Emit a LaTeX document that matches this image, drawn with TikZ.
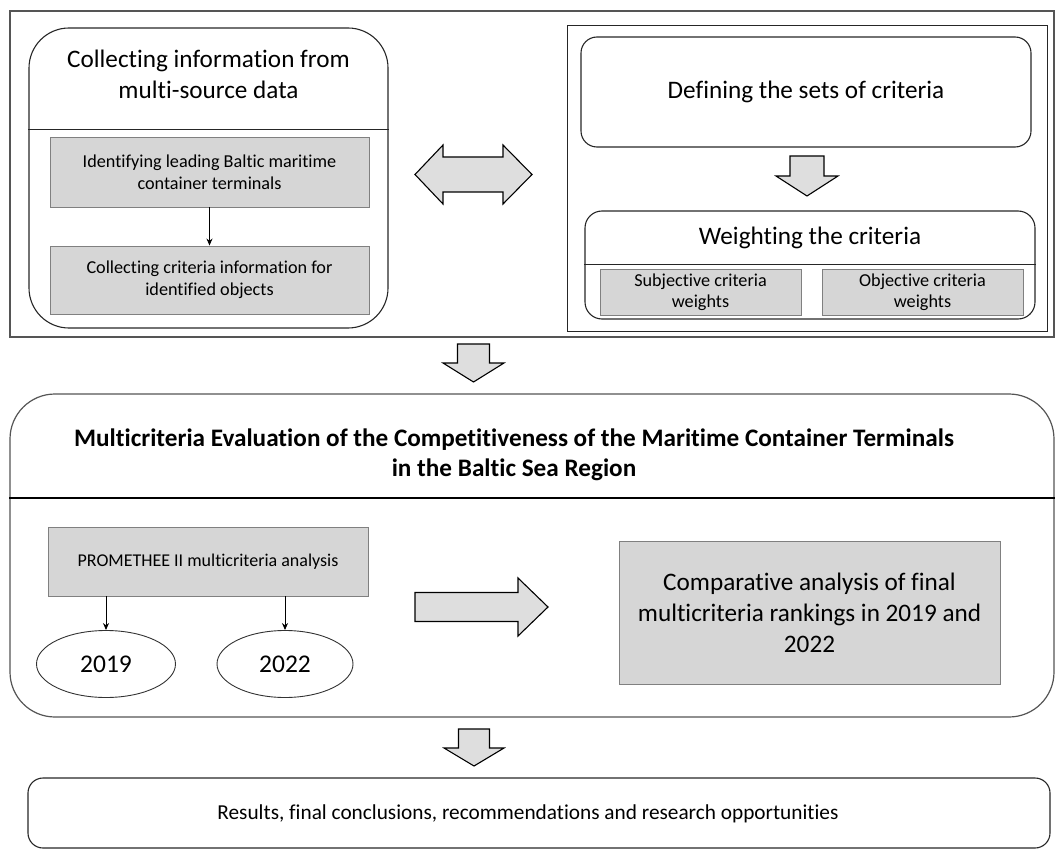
\documentclass[tikz,border=0pt]{standalone}
\usepackage{fontspec}
\setmainfont[Ligatures=NoCommon]{Carlito}
\usetikzlibrary{shapes.geometric,arrows.meta}
\definecolor{boxgray}{RGB}{214,214,214}
\definecolor{arrgray}{RGB}{222,222,222}
\definecolor{framegray}{RGB}{85,85,85}
\tikzset{
  frame/.style={draw=framegray,line width=1.2pt,minimum width=#1,inner sep=0pt},
  rbox/.style={draw=black!85,line width=1.1pt,inner sep=0pt},
  graybox/.style={draw=black!50,line width=0.9pt,fill=boxgray,inner sep=0pt,align=center},
  blockarrow/.style={draw=black,line width=1.1pt,fill=arrgray,line join=miter},
  thinarrow/.style={-{Stealth[length=7pt,width=6pt]},line width=0.9pt},
  txt/.style={inner sep=0pt,align=center},
  yearell/.style={ellipse,draw=black!80,line width=0.9pt,inner sep=0pt},
}
\begin{document}
\begin{tikzpicture}[x=1pt,y=-1pt]
\useasboundingbox (0,0) rectangle (1055,853);
% ---------- top section ----------
\node[frame=1044pt,minimum height=326pt] (outer) at (532,174) {};
% left rounded box
\node[rbox,rounded corners=40pt,minimum width=359pt,minimum height=300pt] (collect) at (208.5,178) {};
\coordinate (cdiv) at (0,130);
\draw[black!85,line width=1pt] (collect.west |- cdiv) -- (collect.east |- cdiv);
\node[txt,font=\fontsize{25.2}{31}\selectfont] (collecttitle) at (208.5,74.5) {Collecting information from\\multi-source data};
\node[graybox,minimum width=319pt,minimum height=70pt,font=\fontsize{18.2}{22}\selectfont] (ident) at (209.5,172) {Identifying leading Baltic maritime\\container terminals};
\node[graybox,minimum width=319pt,minimum height=68pt,font=\fontsize{18.2}{22}\selectfont] (critinfo) at (209.5,280) {Collecting criteria information for\\identified objects};
\draw[thinarrow] (ident.south) -- (critinfo.north);
% double block arrow
\draw[blockarrow] (415,174.5) -- (443,145) -- (443,157) -- (503,157) -- (503,145) -- (532,174.5)
  -- (503,204) -- (503,192) -- (443,192) -- (443,204) -- cycle;
% right rectangle
\node[draw=black!85,line width=1pt,inner sep=0pt,minimum width=480pt,minimum height=305pt] (rightrect) at (807,178.5) {};
\node[rbox,rounded corners=16pt,minimum width=450pt,minimum height=110pt,font=\fontsize{25.2}{28}\selectfont] (define) at (806,92) {Defining the sets of criteria};
\draw[blockarrow] (790,156) -- (824,156) -- (824,176) -- (838,176) -- (807,196) -- (776,176) -- (790,176) -- cycle;
\node[rbox,rounded corners=17pt,minimum width=450pt,minimum height=108pt] (weight) at (810,265) {};
\coordinate (wdiv) at (0,264);
\draw[black!85,line width=1pt] (weight.west |- wdiv) -- (weight.east |- wdiv);
\node[txt,font=\fontsize{25.2}{28}\selectfont] (weighttitle) at (810,238) {Weighting the criteria};
\node[graybox,minimum width=201pt,minimum height=46pt,font=\fontsize{18.2}{21}\selectfont] (subj) at (700.5,292) {Subjective criteria\\weights};
\node[graybox,minimum width=201pt,minimum height=46pt,font=\fontsize{18.2}{21}\selectfont] (obj) at (922.5,292) {Objective criteria\\weights};
% arrow down 1
\draw[blockarrow] (457.5,344) -- (489.5,344) -- (489.5,363) -- (504,363) -- (473.5,382) -- (443,363) -- (457.5,363) -- cycle;
% ---------- middle section ----------
\node[draw=framegray,line width=1.2pt,inner sep=0pt,rounded corners=45pt,minimum width=1044pt,minimum height=323pt] (mce) at (532,555.5) {};
\coordinate (mdiv) at (0,498);
\draw[black,line width=1.3pt] (mce.west |- mdiv) -- (mce.east |- mdiv);
\node[txt,font=\bfseries\fontsize{25.2}{30}\selectfont] (mcetitle) at (514,455) {Multicriteria Evaluation of the Competitiveness of the Maritime Container Terminals\\in the Baltic Sea Region};
\node[graybox,minimum width=320pt,minimum height=69pt,font=\fontsize{18}{20}\selectfont] (prom) at (208,561.5) {PROMETHEE II multicriteria analysis};
\node[yearell,minimum width=139pt,minimum height=67pt,font=\fontsize{25.5}{28}\selectfont] (y2019) at (106,664) {2019};
\node[yearell,minimum width=136pt,minimum height=67pt,font=\fontsize{25.5}{28}\selectfont] (y2022) at (285,664) {2022};
\draw[thinarrow] (prom.south -| y2019.north) -- (y2019.north);
\draw[thinarrow] (prom.south -| y2022.north) -- (y2022.north);
\draw[blockarrow] (415,592.5) -- (518,592.5) -- (518,578) -- (548,607) -- (518,636) -- (518,621.5) -- (415,621.5) -- cycle;
\node[graybox,minimum width=381pt,minimum height=143pt,font=\fontsize{25.2}{31}\selectfont] (compar) at (809.5,612.5) {Comparative analysis of final\\multicriteria rankings in 2019 and\\2022};
% arrow down 2
\draw[blockarrow] (458.5,729) -- (489.5,729) -- (489.5,748) -- (504,748) -- (474,766) -- (444,748) -- (458.5,748) -- cycle;
% ---------- bottom ----------
\node[rbox,rounded corners=15pt,minimum width=1022pt,minimum height=70pt] (results) at (539,813) {};
\node[txt,font=\fontsize{21.3}{24}\selectfont] (resultstext) at (528,814) {Results, final conclusions, recommendations and research opportunities};
\end{tikzpicture}
\end{document}
